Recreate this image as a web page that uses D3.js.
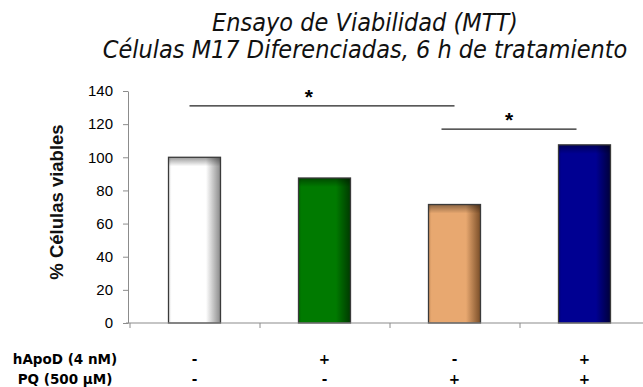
<!DOCTYPE html>
<html>
<head>
<meta charset="utf-8">
<script src="https://cdn.jsdelivr.net/npm/d3@7/dist/d3.min.js"></script>
<style>
  html, body { margin: 0; padding: 0; background: #fff; }
  svg { display: block; }
</style>
</head>
<body>
<svg id="chart" width="643" height="387"></svg>
<script>
// MTT viability, differentiated M17 cells, 6 h treatment
const categories = ["Control", "hApoD", "PQ", "hApoD + PQ"];
const viability = [100, 87.5, 71.5, 107.5];
const barColors = ["#ffffff", "#007a00", "#e8a870", "#000092"];
const edgeColors = ["#8a8a8a", "#003a00", "#7a4e28", "#00003a"];
const hApoDSigns = ["-", "+", "-", "+"];
const pqSigns = ["-", "-", "+", "+"];
const yTicks = [0, 20, 40, 60, 80, 100, 120, 140];
const titleLines = ["Ensayo de Viabilidad (MTT)", "Células M17 Diferenciadas, 6 h de tratamiento"];
const yLabel = "% Células viables";
const rowLabels = ["hApoD (4 nM)", "PQ (500 µM)"];
// significance brackets: pair of category indices and height in % units
const sigFrom = [0, 2];
const sigTo = [2, 3];
const sigLevel = [131, 117];
const sigMark = ["*", "*"];

const svg = d3.select("#chart");

const x = d3.scaleBand()
  .domain(categories)
  .range([129.5, 649.5])
  .paddingInner(0.6)
  .paddingOuter(0.3);

const xCat = d3.scaleBand()
  .domain(categories)
  .range([129.5, 649.5]);

const y = d3.scaleLinear()
  .domain([0, 140])
  .range([323, 91]);

// gradients for the shaded bars
const defs = svg.append("defs");
categories.forEach((c, i) => {
  const g = defs.append("linearGradient")
    .attr("id", "barGrad" + i)
    .attr("x1", "0").attr("x2", "1").attr("y1", "0").attr("y2", "0");
  g.append("stop").attr("offset", "0").attr("stop-color", d3.interpolateRgb(barColors[i], edgeColors[i])(0.25));
  g.append("stop").attr("offset", "0.06").attr("stop-color", barColors[i]);
  g.append("stop").attr("offset", "0.72").attr("stop-color", barColors[i]);
  g.append("stop").attr("offset", "1").attr("stop-color", edgeColors[i]);
});
const topGrad = defs.append("linearGradient")
  .attr("id", "topShade")
  .attr("x1", "0").attr("x2", "0").attr("y1", "0").attr("y2", "1");
topGrad.append("stop").attr("offset", "0").attr("stop-color", "#000").attr("stop-opacity", 0.4);
topGrad.append("stop").attr("offset", "1").attr("stop-color", "#000").attr("stop-opacity", 0);

// title
svg.append("g")
  .selectAll("text")
  .data(titleLines)
  .join("text")
  .attr("x", 365)
  .attr("y", (d, i) => 31 + i * 27)
  .attr("text-anchor", "middle")
  .attr("font-family", "'DejaVu Sans Condensed', 'DejaVu Sans', sans-serif")
  .attr("font-style", "italic")
  .attr("font-size", 25)
  .attr("fill", "#111")
  .text(d => d);

// y axis
const yAxis = svg.append("g")
  .attr("transform", "translate(128,0)")
  .call(d3.axisLeft(y).tickValues(yTicks).tickSize(5).tickPadding(10).tickSizeOuter(0));
yAxis.select(".domain").attr("stroke", "#8c8c8c");
yAxis.selectAll(".tick line").attr("stroke", "#8c8c8c");
yAxis.selectAll(".tick text")
  .attr("font-family", "'Liberation Sans', Arial, sans-serif")
  .attr("font-size", 15)
  .attr("fill", "#000");

// y axis title
svg.append("text")
  .attr("transform", "translate(63," + ((y(0) + y(140)) / 2 - 5) + ") rotate(-90)")
  .attr("text-anchor", "middle")
  .attr("font-family", "'Liberation Sans', Arial, sans-serif")
  .attr("font-weight", "bold")
  .attr("font-size", 18.5)
  .attr("fill", "#111")
  .text(yLabel);

// bars
const bars = svg.append("g");
bars.selectAll("rect.bar")
  .data(viability)
  .join("rect")
  .attr("class", "bar")
  .attr("x", (d, i) => x(categories[i]))
  .attr("y", d => y(d))
  .attr("width", x.bandwidth())
  .attr("height", d => y(0) - y(d))
  .attr("fill", (d, i) => "url(#barGrad" + i + ")");
bars.selectAll("rect.shade")
  .data(viability)
  .join("rect")
  .attr("class", "shade")
  .attr("x", (d, i) => x(categories[i]))
  .attr("y", d => y(d))
  .attr("width", x.bandwidth())
  .attr("height", 9)
  .attr("fill", "url(#topShade)");
bars.selectAll("rect.edge")
  .data(viability)
  .join("rect")
  .attr("class", "edge")
  .attr("x", (d, i) => x(categories[i]))
  .attr("y", d => y(d))
  .attr("width", x.bandwidth())
  .attr("height", d => y(0) - y(d))
  .attr("fill", "none")
  .attr("stroke", "#3a3a3a")
  .attr("stroke-width", 1.3);

// x axis with ticks between categories
const xAxisG = svg.append("g").attr("transform", "translate(0," + y(0) + ")");
xAxisG.append("line")
  .attr("x1", 126).attr("x2", 643)
  .attr("stroke", "#8c8c8c").attr("stroke-width", 1.2);
xAxisG.selectAll("line.sep")
  .data(categories)
  .join("line")
  .attr("class", "sep")
  .attr("x1", d => xCat(d) + 0.5)
  .attr("x2", d => xCat(d) + 0.5)
  .attr("y1", 0).attr("y2", 5)
  .attr("stroke", "#8c8c8c");

// significance brackets
const cx = i => x(categories[i]) + x.bandwidth() / 2;
const sig = svg.append("g");
sigLevel.forEach((lvl, k) => {
  const x1 = k === 0 ? cx(sigFrom[k]) - 5 : cx(sigFrom[k]) - 13;
  const x2 = k === 0 ? cx(sigTo[k]) : cx(sigTo[k]) - 8;
  sig.append("line")
    .attr("x1", x1).attr("x2", x2)
    .attr("y1", y(lvl)).attr("y2", y(lvl))
    .attr("stroke", "#222").attr("stroke-width", 1.2);
  const sx = k === 0 ? x1 + (x2 - x1) * 0.45 : (x1 + x2) / 2;
  sig.append("text")
    .attr("x", sx)
    .attr("y", y(lvl) - 2)
    .attr("text-anchor", "middle")
    .attr("font-family", "'Liberation Sans', Arial, sans-serif")
    .attr("font-weight", "bold")
    .attr("font-size", 21)
    .attr("fill", "#000")
    .text(sigMark[k]);
});

// treatment table under the axis
const rows = [hApoDSigns, pqSigns];
const table = svg.append("g")
  .attr("font-family", "'DejaVu Sans', sans-serif")
  .attr("font-weight", "bold")
  .attr("font-size", 13.5)
  .attr("fill", "#000");
rows.forEach((signs, r) => {
  const baseY = 364 + r * 20;
  table.append("text")
    .attr("x", 65).attr("y", baseY)
    .attr("text-anchor", "middle")
    .text(rowLabels[r]);
  table.selectAll("text.sign" + r)
    .data(signs)
    .join("text")
    .attr("class", "sign" + r)
    .attr("x", (d, i) => cx(i))
    .attr("y", baseY)
    .attr("text-anchor", "middle")
    .text(d => d);
});
</script>
</body>
</html>
